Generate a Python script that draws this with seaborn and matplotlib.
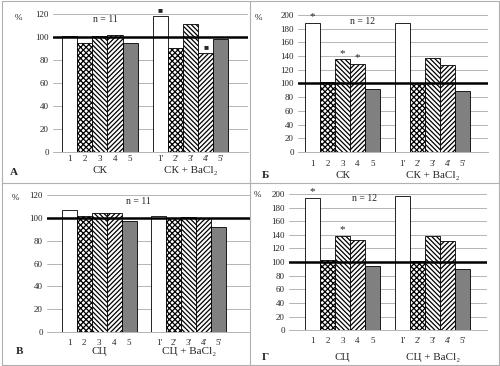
import numpy as np
import pandas as pd
import matplotlib
matplotlib.use("Agg")
import matplotlib.pyplot as plt
import matplotlib.transforms as mtransforms
from matplotlib.lines import Line2D
import seaborn as sns

# bar labels (blank slot separates the two groups)
bar_labels = ["1", "2", "3", "4", "5", " ", "1'", "2'", "3'", "4'", "5'"]
bar_types = [1, 2, 3, 4, 5, 1, 2, 3, 4, 5]

# values, % of control
vals_A = [101, 95, 101, 102, 95, 118, 90, 111, 86, 98]
vals_B = [189, 102, 135, 129, 92, 189, 100, 137, 127, 89]
vals_V = [107, 102, 104, 104, 97, 102, 100, 101, 100, 92]
vals_G = [194, 103, 139, 133, 94, 197, 102, 139, 131, 90]

W, H = 500, 366

def fx(px):
    return px / W

def fy(py):
    return 1 - py / H

# letter, values, ymax, n, groups, marks, rect, xlim, tick pad (pt),
# group label y, letter (x, y), % (x, y), n (x, y)  -- pixel positions
panels = [
    ("А", vals_A, 120, "n = 11", ("СК", "СК + BaCl₂"), {"1'": "■", "4'": "■"},
     [0.106, 0.585, 0.39, 0.377], (-1.1, 11.8), 2.5, 170, (14, 172), (18, 18), (105, 20)),
    ("Б", vals_B, 200, "n = 12", ("СК", "СК + BaCl₂"), {"1": "*", "3": "*", "4": "*"},
     [0.596, 0.585, 0.38, 0.374], (-0.97, 11.7), 5.5, 175, (265, 175), (258, 18), (362, 22)),
    ("В", vals_V, 120, "n = 11", ("СЦ", "СЦ + BaCl₂"), {},
     [0.094, 0.093, 0.406, 0.374], (-1.5, 12.1), 5, 352, (20, 352), (15, 198), (138, 202)),
    ("Г", vals_G, 200, "n = 12", ("СЦ", "СЦ + BaCl₂"), {"1": "*", "3": "*"},
     [0.578, 0.098, 0.396, 0.372], (-1.55, 11.6), 5, 357, (265, 357), (257, 195), (365, 198)),
]

fill = {1: "white", 2: "white", 3: "white", 4: "white", 5: "#808080"}
hatch = {1: None, 2: "xxxxxx", 3: "\\\\\\\\\\\\\\", 4: "///////", 5: None}

sns.set_theme(style="white")
plt.rcParams["font.family"] = ["Liberation Serif", "DejaVu Serif"]
plt.rcParams["hatch.linewidth"] = 0.9

fig = plt.figure(figsize=(5.0, 3.66), dpi=100)

for letter, vals, ymax, ntext, groups, marks, rect, xl, pad, gy, lpos, ppos, npos in panels:
    ax = fig.add_axes(rect)
    df = pd.DataFrame({
        "bar": [b for b in bar_labels if b != " "],
        "value": vals,
        "kind": bar_types,
    })
    sns.barplot(data=df, x="bar", y="value", hue="kind", order=bar_labels,
                palette=fill, width=1.0, edgecolor="black", linewidth=0.6,
                legend=False, ax=ax)
    for p in ax.patches:
        i = int(round(p.get_x() + p.get_width() / 2))
        lab = bar_labels[i]
        if lab == " ":
            continue
        k = df.loc[df["bar"] == lab, "kind"].iloc[0]
        if hatch[k]:
            p.set_hatch(hatch[k])
    ax.set_xlim(*xl)
    ax.set_ylim(0, ymax)
    ax.set_yticks(np.arange(0, ymax + 1, 20))
    ax.yaxis.grid(True, color="#a8a8a8", linewidth=0.6)
    ax.set_axisbelow(True)
    ax.axhline(100, color="black", linewidth=1.8, zorder=5)
    for s in ["top", "right", "left"]:
        ax.spines[s].set_visible(False)
    ax.spines["bottom"].set_color("#a8a8a8")
    ax.spines["bottom"].set_linewidth(0.6)
    ax.tick_params(axis="y", length=0, labelsize=6.5, pad=3)
    ax.tick_params(axis="x", length=0, labelsize=6.5, pad=pad)
    ax.set_xlabel("")
    ax.set_ylabel("")

    fig.text(fx(ppos[0]), fy(ppos[1]), "%", fontsize=6.5, ha="center", va="center")
    fig.text(fx(npos[0]), fy(npos[1]), ntext, fontsize=7, ha="center", va="center")
    fig.text(fx(lpos[0]), fy(lpos[1]), letter, fontsize=8, fontweight="bold",
             ha="center", va="center")

    plain = [x for x in bar_labels if x != " "]
    for b, sym in marks.items():
        i = bar_labels.index(b)
        v = vals[plain.index(b)]
        ax.text(i, v + ymax * 0.012, sym, fontsize=6 if sym == "■" else 8,
                ha="center", va="bottom", clip_on=False, zorder=6)

    tr = mtransforms.blended_transform_factory(ax.transData, fig.transFigure)
    ax.text(2, fy(gy), groups[0], transform=tr, fontsize=8, ha="center", va="center")
    ax.text(8, fy(gy), groups[1], transform=tr, fontsize=8, ha="center", va="center")

# panel frames
for xs, ys in [([0.003, 0.997], [0.997, 0.997]), ([0.003, 0.997], [0.003, 0.003]),
               ([0.003, 0.003], [0.003, 0.997]), ([0.997, 0.997], [0.003, 0.997]),
               ([0.5, 0.5], [0.003, 0.997]), ([0.003, 0.997], [0.5, 0.5])]:
    fig.add_artist(Line2D(xs, ys, color="#b0b0b0", linewidth=0.8))

fig.savefig("out.png", dpi=100)
